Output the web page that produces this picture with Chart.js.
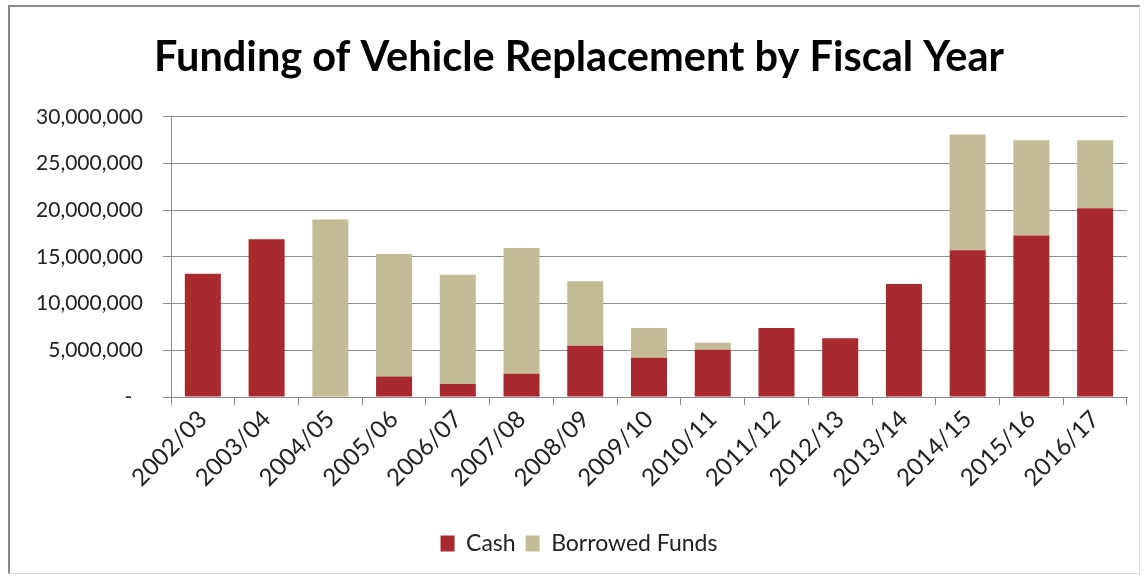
<!DOCTYPE html>
<html>
<head>
<meta charset="utf-8">
<script src="https://cdn.jsdelivr.net/npm/chart.js@4/dist/chart.umd.min.js"></script>
<style>
  html, body { margin: 0; padding: 0; background: #ffffff; }
  #wrap { position: relative; width: 1148px; height: 578px; overflow: hidden; }
  #frame { position: absolute; left: 8px; top: 5px; width: 1129px; height: 566px;
           border-left: 2px solid #8a8a8a; border-top: 2px solid #8a8a8a;
           border-right: 1px solid #dcdcdc; border-bottom: 1px solid #dcdcdc; }
  canvas { position: absolute; left: 0; top: 0; }
</style>
</head>
<body>
<div id="wrap">
  <div id="frame"></div>
  <canvas id="c" width="1148" height="578"></canvas>
</div>
<script>
const categories = ["2002/03","2003/04","2004/05","2005/06","2006/07","2007/08","2008/09","2009/10","2010/11","2011/12","2012/13","2013/14","2014/15","2015/16","2016/17"];
const cash = [13200000, 16900000, 0, 2200000, 1400000, 2500000, 5500000, 4200000, 5050000, 7400000, 6300000, 12100000, 15700000, 17300000, 20200000];
const borrowed = [0, 0, 19000000, 13100000, 11700000, 13450000, 6900000, 3200000, 750000, 0, 0, 0, 12400000, 10200000, 7300000];
const yTicks = [0, 5000000, 10000000, 15000000, 20000000, 25000000, 30000000];
const titleText = "Funding of Vehicle Replacement by Fiscal Year";

const FONT = "Lato";
new Chart(document.getElementById('c'), {
  type: 'bar',
  data: {
    labels: categories,
    datasets: [
      { label: 'Cash', data: cash, backgroundColor: '#A8292E', borderWidth: 0 },
      { label: 'Borrowed Funds', data: borrowed, backgroundColor: '#C4BC96', borderWidth: 0 }
    ]
  },
  options: {
    responsive: false,
    animation: false,
    devicePixelRatio: 1,
    layout: { padding: { left: 31, right: 21, top: 0, bottom: 13 } },
    datasets: { bar: { barPercentage: 1, categoryPercentage: 0.565 } },
    plugins: {
      tooltip: { enabled: false },
      title: {
        display: true, text: titleText, color: '#000000',
        font: { family: FONT, size: 41.5, weight: 'bold' },
        padding: { top: 33, bottom: 34 }
      },
      legend: {
        position: 'bottom',
        labels: {
          color: '#222222', font: { family: FONT, size: 23 },
          boxWidth: 14, boxHeight: 16, padding: 10
        }
      }
    },
    scales: {
      x: {
        stacked: true,
        grid: { display: true, drawOnChartArea: false, offset: true, tickLength: 8, color: '#8c8c8c' },
        border: { display: true, color: '#8c8c8c' },
        ticks: { color: '#222222', font: { family: FONT, size: 24 }, minRotation: 45, maxRotation: 45, padding: 0 },
        afterFit: (s) => { s.height = 125; }
      },
      y: {
        stacked: true,
        min: 0, max: 30000000,
        afterBuildTicks: (s) => { s.ticks = yTicks.map(v => ({ value: v })); },
        grid: { color: '#8c8c8c', tickLength: 8 },
        border: { display: true, color: '#8c8c8c' },
        ticks: {
          color: '#222222', font: { family: FONT, size: 21 }, padding: 20,
          callback: (v) => v === 0 ? '-  ' : Number(v).toLocaleString('en-US')
        },
        afterFit: (s) => { s.width = 140; }
      }
    }
  }
});
</script>
</body>
</html>
